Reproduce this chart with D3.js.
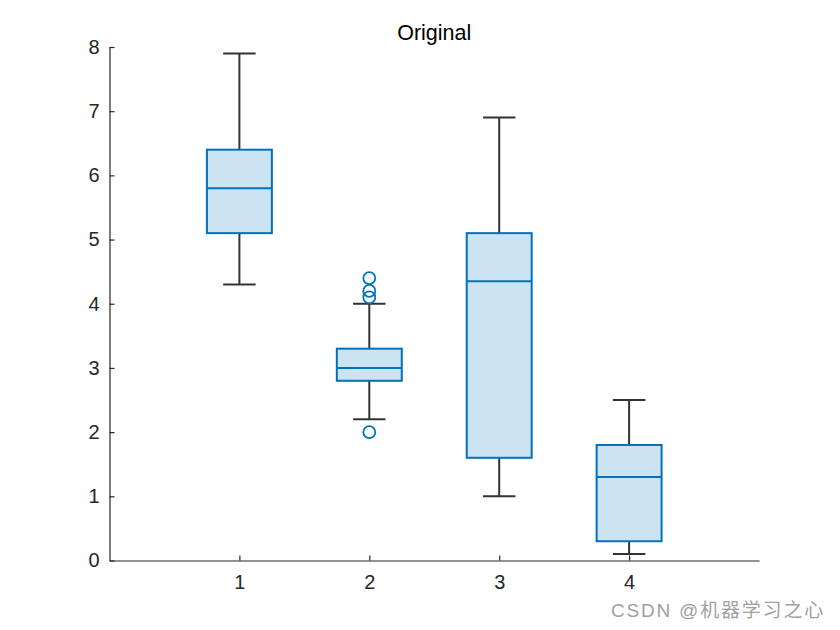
<!DOCTYPE html>
<html><head><meta charset="utf-8">
<script src="https://cdn.jsdelivr.net/npm/d3@7"></script>
<style>body{margin:0;background:#fff}svg{display:block;font-family:"Liberation Sans",Arial,sans-serif}</style>
</head><body><svg id="c" width="840" height="630"></svg>
<script>
const categories = [1, 2, 3, 4];
const whiskerLow = [4.3, 2.2, 1.0, 0.1];
const q1 = [5.1, 2.8, 1.6, 0.3];
const medians = [5.8, 3.0, 4.35, 1.3];
const q3 = [6.4, 3.3, 5.1, 1.8];
const whiskerHigh = [7.9, 4.0, 6.9, 2.5];
const outliers = [[], [4.4, 4.1, 4.2, 2.0], [], []];
const yTicks = [0, 1, 2, 3, 4, 5, 6, 7, 8];
const title = "Original";

const svg = d3.select("#c");
const L = 109.5, R = 759, T = 47, B = 560.5;
const x = d3.scaleLinear().domain([0, 5]).range([L, R]);
const y = d3.scaleLinear().domain([0, 8]).range([B, T]);
const blue = "#0072BD";
const dark = "#262626";

// axes
const yAxis = svg.append("g").attr("transform", `translate(${L},0)`)
  .call(d3.axisLeft(y).tickValues(yTicks).tickFormat(d3.format("d")).tickSizeInner(-5).tickSizeOuter(0).tickPadding(10));
const xAxis = svg.append("g").attr("transform", `translate(0,${B})`)
  .call(d3.axisBottom(x).tickValues(categories).tickFormat(d3.format("d")).tickSizeInner(-5).tickSizeOuter(0).tickPadding(14.5));
[yAxis, xAxis].forEach(a => {
  a.select(".domain").attr("stroke", dark).attr("stroke-width", 1.2);
  a.selectAll(".tick line").attr("stroke", dark).attr("stroke-width", 1.2);
  a.selectAll("text").attr("font-size", 20).attr("fill", dark).attr("font-family", "Liberation Sans, Arial, sans-serif");
});
xAxis.selectAll("text").attr("dy", "0.71em");

const bw = 0.5, cw = 0.25;
const g = svg.append("g");
categories.forEach((c, i) => {
  const cx = x(c);
  const hb = (x(bw) - x(0)) / 2, hc = (x(cw) - x(0)) / 2;
  const wl = (y1, y2) => g.append("line").attr("x1", cx).attr("x2", cx).attr("y1", y1).attr("y2", y2)
    .attr("stroke", "#333").attr("stroke-width", 2);
  const cap = yy => g.append("line").attr("x1", cx - hc).attr("x2", cx + hc).attr("y1", yy).attr("y2", yy)
    .attr("stroke", "#333").attr("stroke-width", 2);
  wl(y(q3[i]), y(whiskerHigh[i]));
  wl(y(q1[i]), y(whiskerLow[i]));
  cap(y(whiskerHigh[i]));
  cap(y(whiskerLow[i]));
  // box
  g.append("rect").attr("x", cx - hb).attr("width", 2 * hb)
    .attr("y", y(q3[i])).attr("height", y(q1[i]) - y(q3[i]))
    .attr("fill", "#CCE3F2").attr("stroke", blue).attr("stroke-width", 2);
  g.append("line").attr("x1", cx - hb).attr("x2", cx + hb).attr("y1", y(medians[i])).attr("y2", y(medians[i]))
    .attr("stroke", blue).attr("stroke-width", 2);
  outliers[i].forEach(v => {
    g.append("circle").attr("cx", cx).attr("cy", y(v)).attr("r", 6)
      .attr("fill", "none").attr("stroke", blue).attr("stroke-width", 1.8);
  });
});

svg.append("text").attr("x", (L + R) / 2).attr("y", 40).attr("text-anchor", "middle")
  .attr("font-size", 21.5).attr("fill", "#000").text(title);

svg.append("text").attr("x", 825).attr("y", 617).attr("text-anchor", "end")
  .attr("font-size", 19).attr("letter-spacing", 1.8).attr("fill", "#a0a0a0")
  .attr("font-family", "Liberation Sans, 'Noto Sans CJK SC', sans-serif")
  .text("CSDN @机器学习之心");
</script></body></html>
